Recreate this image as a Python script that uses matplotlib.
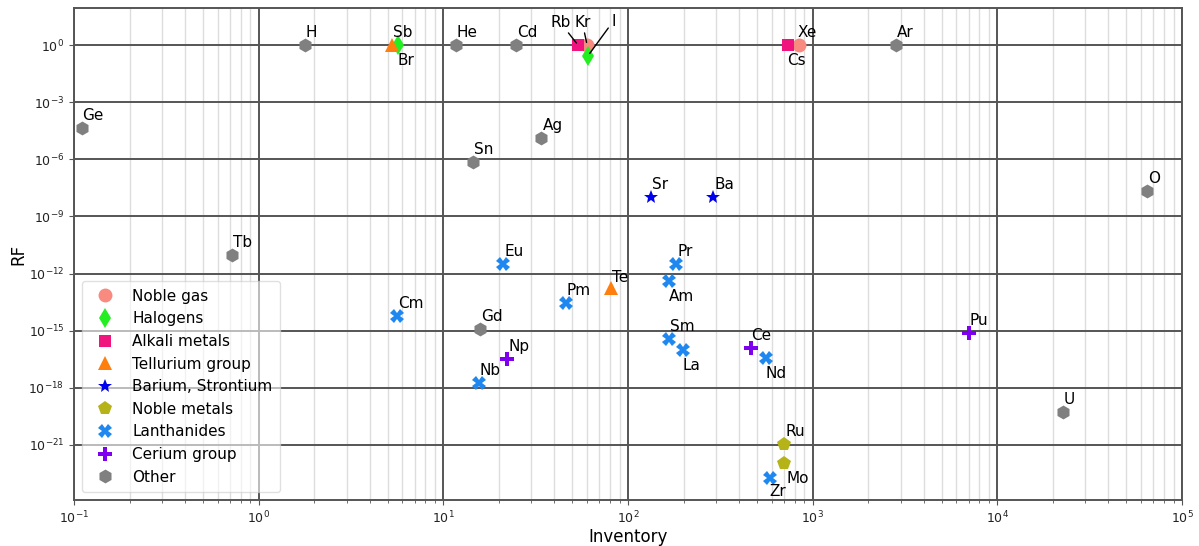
"""RF vs inventory scatter, log-log"""
import matplotlib
matplotlib.use("Agg")
import matplotlib.pyplot as plt
from matplotlib.ticker import NullLocator, NullFormatter, LogLocator

# ---- data ------------------------------------------------------------
noble_gas_names = ["Kr", "Xe"]
noble_gas_inv = [60.1, 845]
noble_gas_rf = [1.0, 1.0]

halogen_names = ["Br", "I"]
halogen_inv = [5.68, 60.8]
halogen_rf = [1.0, 0.28]

alkali_names = ["Rb", "Cs"]
alkali_inv = [53.7, 731]
alkali_rf = [1.0, 1.0]

tellurium_names = ["Sb", "Te"]
tellurium_inv = [5.25, 80.8]
tellurium_rf = [1.0, 1.8e-13]

basr_names = ["Sr", "Ba"]
basr_inv = [132.5, 289]
basr_rf = [1.1e-8, 1.0e-8]

noble_metal_names = ["Ru", "Mo"]
noble_metal_inv = [701, 701]
noble_metal_rf = [1.1e-21, 1.05e-22]

lanthanide_names = ["Eu", "Pr", "Am", "Pm", "Cm", "Sm", "La", "Nb", "Nd", "Zr"]
lanthanide_inv = [21.1, 183, 166, 45.9, 5.63, 166, 198, 15.6, 556, 586]
lanthanide_rf = [3.2e-12, 3.2e-12, 4.3e-13, 2.8e-14, 5.9e-15, 3.5e-16,
                 9.6e-17, 1.7e-18, 3.5e-17, 1.8e-23]

cerium_names = ["Ce", "Np", "Pu"]
cerium_inv = [461, 22.2, 7010]
cerium_rf = [1.2e-16, 3.1e-17, 7.3e-16]

other_names = ["H", "He", "Cd", "Ar", "Ge", "Ag", "Sn", "O", "U", "Tb", "Gd"]
other_inv = [1.78, 11.7, 24.9, 2810, 0.110, 34.0, 14.5, 65000, 22700, 0.716, 15.8]
other_rf = [1.0, 1.0, 1.0, 1.0, 4.7e-5, 1.4e-5, 7.3e-7, 2.3e-8, 5e-20,
            9.6e-12, 1.2e-15]

x_ticks = [1e-1, 1e0, 1e1, 1e2, 1e3, 1e4, 1e5]
y_ticks = [1e0, 1e-3, 1e-6, 1e-9, 1e-12, 1e-15, 1e-18, 1e-21]

groups = [
    ("Noble gas", noble_gas_names, noble_gas_inv, noble_gas_rf, "o", "#f98a80", 10),
    ("Halogens", halogen_names, halogen_inv, halogen_rf, "d", "#22ee22", 10),
    ("Alkali metals", alkali_names, alkali_inv, alkali_rf, "s", "#f0147f", 9),
    ("Tellurium group", tellurium_names, tellurium_inv, tellurium_rf, "^", "#ff7f0e", 10),
    ("Barium, Strontium", basr_names, basr_inv, basr_rf, "*", "#0000ee", 10),
    ("Noble metals", noble_metal_names, noble_metal_inv, noble_metal_rf, "p", "#b5b318", 10),
    ("Lanthanides", lanthanide_names, lanthanide_inv, lanthanide_rf, "X", "#1e88f0", 10),
    ("Cerium group", cerium_names, cerium_inv, cerium_rf, "P", "#7f00ee", 10),
    ("Other", other_names, other_inv, other_rf, "h", "#808080", 10),
]

# label placement (pixel offsets from the marker), default is above-right
label_offsets = {
    "Br": (0, -8, "top"), "Cs": (0, -8, "top"), "Am": (0, -8, "top"),
    "La": (0, -8, "top"), "Nd": (0, -8, "top"), "Mo": (2, -8, "top"),
    "Zr": (0, -6, "top"), "Te": (1, 3, "bottom"), "Xe": (-2, 5, "bottom"),
}
# labels joined to their marker with a line
leader_offsets = {"Rb": (-28, 15), "Kr": (-13, 15), "I": (23, 27)}

fig = plt.figure(figsize=(11.99, 5.46), dpi=100)
ax = fig.add_axes([0.0617, 0.0842, 0.9241, 0.9011])

for label, names, xs, ys, marker, color, ms in groups:
    ax.plot(xs, ys, linestyle="none", marker=marker, color=color,
            markersize=ms, markeredgewidth=0, label=label, zorder=3)
    for name, x, y in zip(names, xs, ys):
        if name in leader_offsets:
            dx, dy = leader_offsets[name]
            ax.annotate(name, (x, y), xytext=(dx, dy), textcoords="offset pixels",
                        fontsize=11, ha="left", va="bottom", zorder=4,
                        arrowprops=dict(arrowstyle="-", color="black", lw=1,
                                        shrinkA=0, shrinkB=2))
        else:
            dx, dy, va = label_offsets.get(name, (1, 5, "bottom"))
            ax.annotate(name, (x, y), xytext=(dx, dy), textcoords="offset pixels",
                        fontsize=11, ha="left", va=va, zorder=4)

ax.set_xscale("log")
ax.set_yscale("log")
ax.set_xlim(1e-1, 1e5)
ax.set_ylim(10 ** -23.9, 10 ** 1.95)
ax.set_xticks(x_ticks)
ax.set_yticks(y_ticks)
ax.yaxis.set_minor_locator(NullLocator())
ax.xaxis.set_minor_locator(LogLocator(base=10, subs=range(2, 10), numticks=20))
ax.xaxis.set_minor_formatter(NullFormatter())

ax.grid(which="major", color="#555555", linewidth=1.4, zorder=0)
ax.grid(which="minor", axis="x", color="#dddddd", linewidth=1.0, zorder=0)
ax.set_axisbelow(True)
for s in ax.spines.values():
    s.set_color("#555555")
    s.set_linewidth(1.4)
ax.tick_params(which="both", colors="#555555", labelcolor="#222222", labelsize=9)

ax.set_xlabel("Inventory", fontsize=12, labelpad=1)
ax.set_ylabel("RF", fontsize=12, labelpad=1)

ax.legend(loc="lower left", fontsize=11, framealpha=0.6, labelspacing=0.5,
          handletextpad=0.8, borderpad=0.5, edgecolor="#cccccc")

fig.savefig("out.png", dpi=100)
